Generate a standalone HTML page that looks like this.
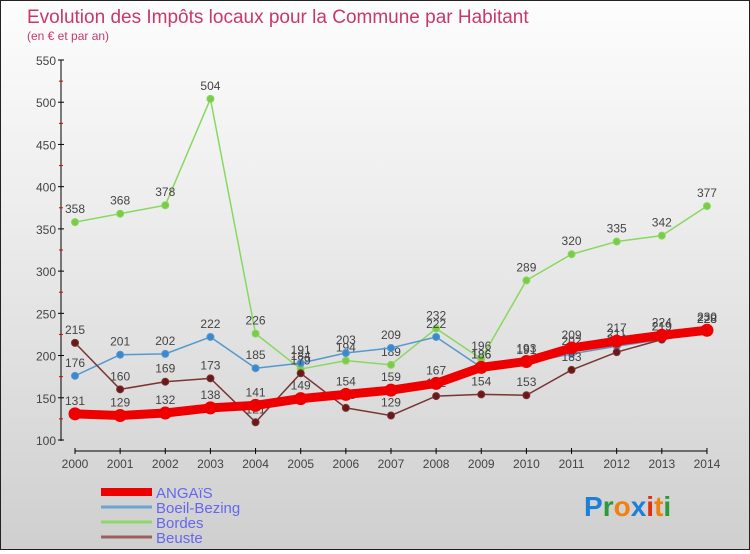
<!DOCTYPE html>
<html><head><meta charset="utf-8"><style>
body{margin:0;width:750px;height:550px;overflow:hidden;font-family:"Liberation Sans",sans-serif}
#wrap{position:relative;width:748px;height:548px;border:1px solid #222;background:linear-gradient(#fdfdfd,#ececec 40%,#cfcfcf);}
</style></head><body>
<div id="wrap">
<svg id="c" width="748" height="548"></svg>
</div>
<script>
const years=[2000,2001,2002,2003,2004,2005,2006,2007,2008,2009,2010,2011,2012,2013,2014];
const angais=[131,129,132,138,141,149,154,159,167,186,193,209,217,224,230];
const boeil=[176,201,202,222,185,191,203,209,222,186,191,202,211,219,228];
const bordes=[358,368,378,504,226,184,194,189,232,196,289,320,335,342,377];
const beuste=[215,160,169,173,121,179,138,129,152,154,153,183,204,219,228];
const yTicks=[100,150,200,250,300,350,400,450,500,550];
const NS="http://www.w3.org/2000/svg";
const svg=document.getElementById('c');
function X(i){return 74+i*45.14;}
function Y(v){return 439-(v-100)*380/450;}
function el(t,a,p){const e=document.createElementNS(NS,t);for(const k in a)e.setAttribute(k,a[k]);(p||svg).appendChild(e);return e;}
function tx(x,y,s,a){const e=el('text',Object.assign({x:x,y:y},a));e.textContent=s;return e;}
let t=tx(26,22,'Evolution des Impôts locaux pour la Commune par Habitant',{fill:'#c8386a','font-size':19});

t=tx(26,39,'(en € et par an)',{fill:'#c8386a','font-size':12});

// y axis
let ax=el('line',{x1:60,y1:59,x2:60,y2:440,stroke:'#000'});

yTicks.forEach((v,i)=>{el('line',{x1:57,x2:63,y1:Y(v),y2:Y(v),stroke:'#000'});
 if(i<yTicks.length-1)el('line',{x1:58,x2:62,y1:Y(v+25),y2:Y(v+25),stroke:'#d00'});
 const l=tx(55,Y(v)+5,v,{'text-anchor':'end','font-size':12,fill:'#444'});
 });
ax=el('line',{x1:X(0),y1:450,x2:X(14),y2:450,stroke:'#000'});

years.forEach((y,i)=>{el('line',{x1:X(i),x2:X(i),y1:447,y2:453,stroke:'#000'});
 const l=tx(X(i),467,y,{'text-anchor':'middle','font-size':12,fill:'#444'});
 });
function series(d,col,w,r,dot,name){
 const g=el('g',{});
 el('polyline',{points:d.map((v,i)=>X(i)+','+Y(v)).join(' '),fill:'none',stroke:col,'stroke-width':w,'stroke-linejoin':'round'},g);
 d.forEach((v,i)=>{const c=el('circle',{cx:X(i),cy:Y(v),r:r,fill:dot,stroke:col,'stroke-width':1},g);
  
  const l=tx(X(i),Y(v)-9,v,{'text-anchor':'middle','font-size':12,fill:'#444'},g);
  });
}
series(bordes,'#88d860',1.5,3.5,'#7acc44','bordes');
series(boeil,'#5599cc',1.5,3.5,'#3b88d0','boeil-bezing');
series(beuste,'#7a3434',1.5,3.5,'#6a1818','beuste');
series(angais,'#ee0000',9,6,'#ee0000','angais');
const leg=[['ANGAïS','#ee0000',8],['Boeil-Bezing','#6aa6d0',3],['Bordes','#8ed86a',3],['Beuste','#9a6060',3]];
leg.forEach((l,i)=>{const y=491+i*15;const g=el('g',{});
 
 el('line',{x1:100,x2:151,y1:y,y2:y,stroke:l[1],'stroke-width':l[2]},g);
 tx(155,y+6,l[0],{'font-size':15,fill:'#6666ee'},g);});
const logo=el('text',{x:583,y:515,'font-size':28,'font-weight':'bold'});

[['P','#1e7fd8'],['r','#2a9a3a'],['o','#f08010'],['x','#1e7fd8'],['i','#e03010'],['t','#f08010'],['i','#2a9a3a']].forEach(p=>{const s=el('tspan',{fill:p[1]},logo);s.textContent=p[0];});
</script>
</body></html>
